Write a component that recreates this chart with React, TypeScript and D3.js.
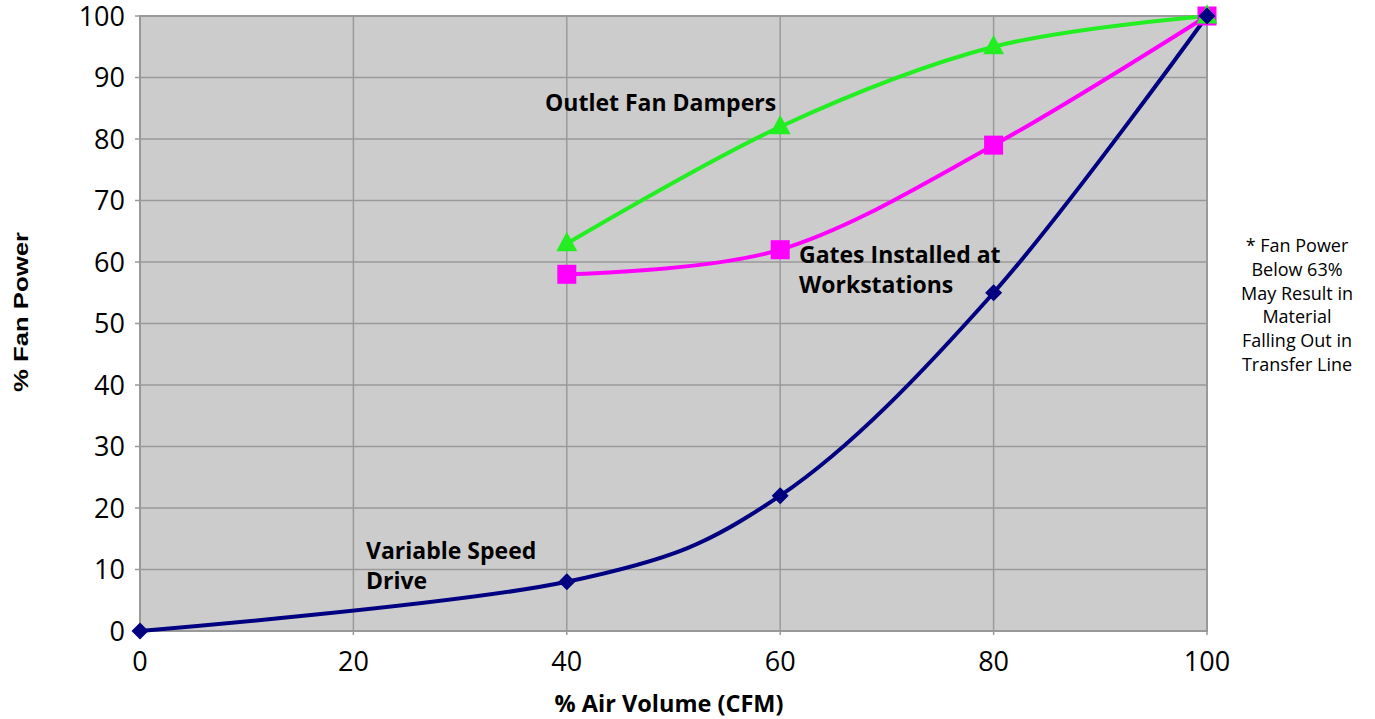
import React from "react";
import * as d3 from "d3";

const xTicks = [0, 20, 40, 60, 80, 100];
const yTicks = [0, 10, 20, 30, 40, 50, 60, 70, 80, 90, 100];

const vsdX = [0, 40, 60, 80, 100];
const vsdY = [0, 8, 22, 55, 100];
const gatesX = [40, 60, 80, 100];
const gatesY = [58, 62, 79, 100];
const outletX = [40, 60, 80, 100];
const outletY = [63, 82, 95, 100];

const noteLines = [
  "* Fan Power",
  "Below 63%",
  "May Result in",
  "Material",
  "Falling Out in",
  "Transfer Line",
];

const W = 1375;
const H = 719;
const left = 140;
const right = 1207;
const top = 16;
const bottom = 631;

const font = "'Open Sans', 'Noto Sans', sans-serif";

export default function App() {
  const x = d3.scaleLinear().domain([0, 100]).range([left, right]);
  const y = d3.scaleLinear().domain([0, 100]).range([bottom, top]);
  const line = d3
    .line<[number, number]>()
    .x((d) => x(d[0]))
    .y((d) => y(d[1]))
    .curve(d3.curveCardinal.tension(0));

  const vsd: [number, number][] = vsdX.map((v, i) => [v, vsdY[i]]);
  const gates: [number, number][] = gatesX.map((v, i) => [v, gatesY[i]]);
  const outlet: [number, number][] = outletX.map((v, i) => [v, outletY[i]]);

  const tri = (cx: number, cy: number, s: number) =>
    `M${cx},${cy - s * 0.62} L${cx + s * 0.55},${cy + s * 0.4} L${cx - s * 0.55},${cy + s * 0.4} Z`;
  const dia = (cx: number, cy: number, s: number) =>
    `M${cx},${cy - s} L${cx + s},${cy} L${cx},${cy + s} L${cx - s},${cy} Z`;

  const lab = { fontFamily: font, fontWeight: "bold" as const, fontSize: 23, fill: "#000" };

  return (
    <svg
      width={W}
      height={H}
      style={{ position: "absolute", left: 0, top: 0, background: "#fff" }}
    >
      <rect x={left} y={top} width={right - left} height={bottom - top} fill="#cccccc" />
      {xTicks.map((t) => (
        <line key={"gx" + t} x1={x(t)} x2={x(t)} y1={top} y2={bottom + 4} stroke="#9a9a9a" strokeWidth={1.5} />
      ))}
      {yTicks.map((t) => (
        <line key={"gy" + t} x1={left - 5} x2={right} y1={y(t)} y2={y(t)} stroke="#9a9a9a" strokeWidth={1.5} />
      ))}
      <rect x={left} y={top} width={right - left} height={bottom - top} fill="none" stroke="#999" strokeWidth={2} />

      {yTicks.map((t) => (
        <text key={"yl" + t} x={125} y={y(t) + 9.5} textAnchor="end" fontFamily={font} fontSize={27} fill="#000">
          {t}
        </text>
      ))}
      {xTicks.map((t) => (
        <text key={"xl" + t} x={x(t)} y={671} textAnchor="middle" fontFamily={font} fontSize={27} fill="#000">
          {t}
        </text>
      ))}

      <text x={669} y={712} textAnchor="middle" {...lab} fontSize={23.5}>
        % Air Volume (CFM)
      </text>
      <text
        transform={`translate(28,312) rotate(-90)`}
        textAnchor="middle"
        fontFamily="'Liberation Sans', Arial, sans-serif"
        fontWeight="bold"
        fontSize={21}
        textLength={160}
        lengthAdjust="spacingAndGlyphs"
        fill="#000"
      >
        % Fan Power
      </text>

      <path d={line(outlet) || ""} fill="none" stroke="#22ee22" strokeWidth={4} />
      <path d={line(gates) || ""} fill="none" stroke="#ff00ff" strokeWidth={4} />
      <path d={line(vsd) || ""} fill="none" stroke="#000080" strokeWidth={4} />

      {gates.map((d, i) => (
        <rect key={"g" + i} x={x(d[0]) - 9.5} y={y(d[1]) - 9.5} width={19} height={19} fill="#ff00ff" />
      ))}
      {outlet.map((d, i) => (
        <path key={"o" + i} d={tri(x(d[0]), y(d[1]), 19)} fill="#22ee22" />
      ))}
      {vsd.map((d, i) => (
        <path key={"v" + i} d={dia(x(d[0]), y(d[1]), 8.5)} fill="#000080" />
      ))}

      <text x={545} y={111} {...lab}>
        Outlet Fan Dampers
      </text>
      <text x={799} y={263} {...lab}>
        Gates Installed at
      </text>
      <text x={799} y={293} {...lab}>
        Workstations
      </text>
      <text x={366} y={559} {...lab}>
        Variable Speed
      </text>
      <text x={366} y={589} {...lab}>
        Drive
      </text>

      {noteLines.map((s, i) => (
        <text key={"n" + i} x={1297} y={252 + i * 23.8} textAnchor="middle" fontFamily={font} fontSize={18} fill="#000">
          {s}
        </text>
      ))}
    </svg>
  );
}
